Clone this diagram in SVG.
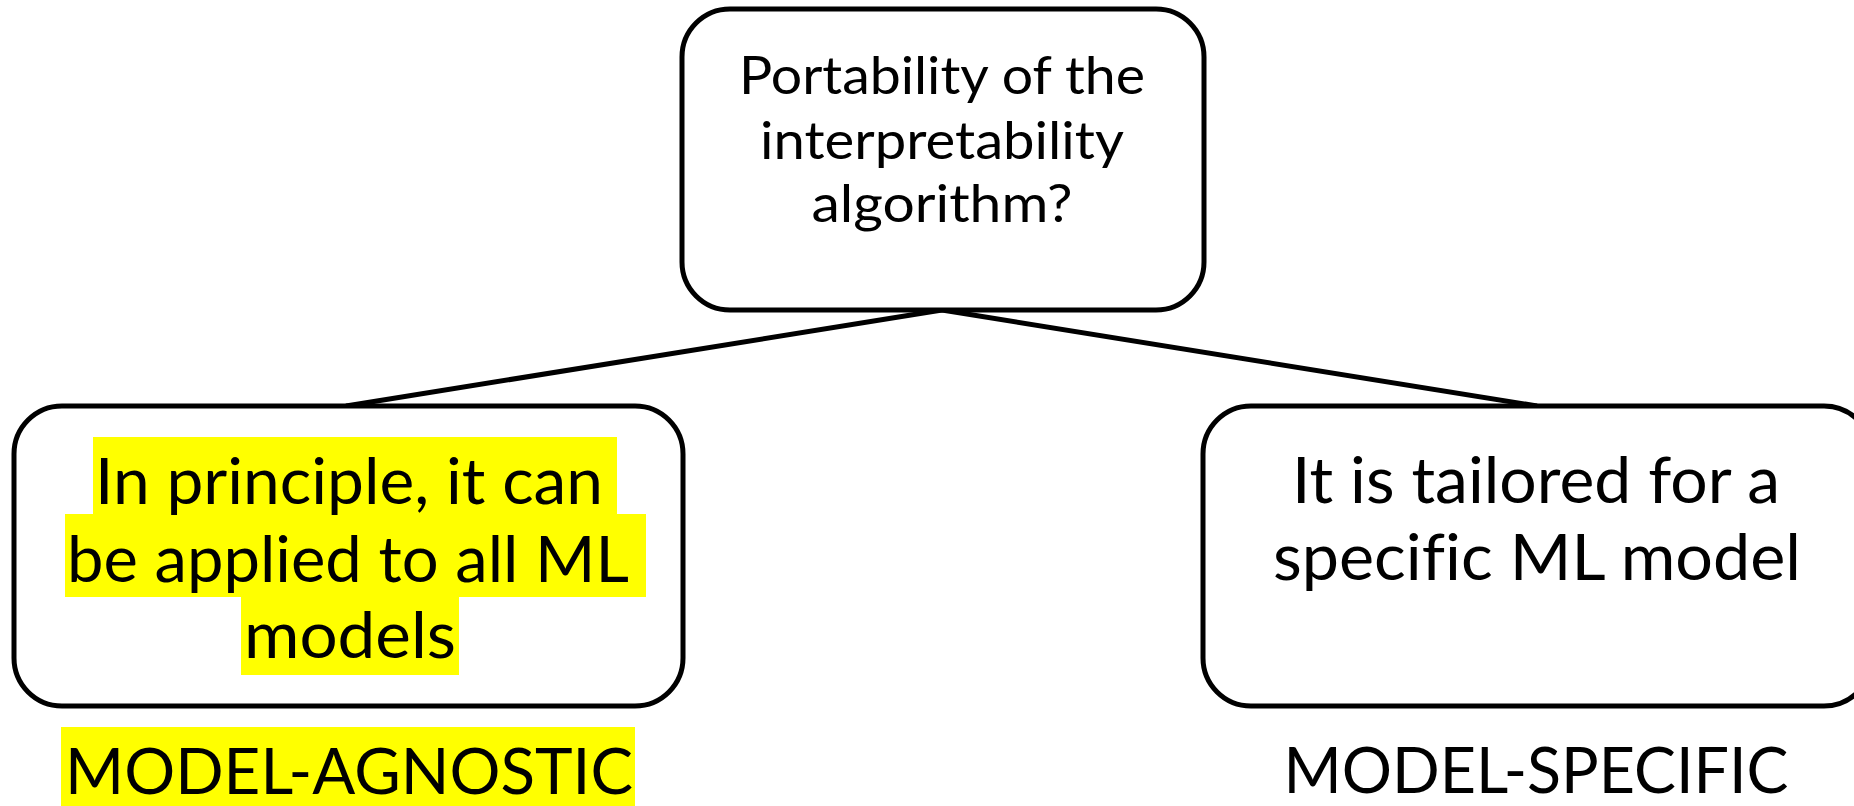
<svg xmlns="http://www.w3.org/2000/svg" width="1854" height="806" viewBox="0 0 1854 806">
<style>
.box{fill:#fff;stroke:#000;stroke-width:5}
.t{font-family:Lato,"Open Sans",sans-serif;fill:#000;text-anchor:middle;font-variant-ligatures:none}
.q{font-size:52px}
.a{font-size:64px}
.hl{fill:#ffff00}
.conn{stroke:#000;stroke-width:5;fill:none}
</style>
<rect width="1854" height="806" fill="#fff"/>
<g id="connectors">
<line class="conn" x1="942" y1="310" x2="346" y2="406"/>
<line class="conn" x1="942" y1="310" x2="1537" y2="406"/>
</g>
<g id="question">
<rect class="box" x="682" y="9" width="522" height="301" rx="48"/>
<text class="t q" x="942" y="94" textLength="406" lengthAdjust="spacingAndGlyphs">Portability of the</text>
<text class="t q" x="942" y="159" textLength="364" lengthAdjust="spacingAndGlyphs">interpretability</text>
<text class="t q" x="942" y="222" textLength="261" lengthAdjust="spacingAndGlyphs">algorithm?</text>
</g>
<g id="agnostic">
<rect class="box" x="14" y="406" width="669" height="300" rx="48"/>
<rect class="hl" x="93" y="437" width="524" height="77"/>
<rect class="hl" x="65" y="514" width="581" height="83"/>
<rect class="hl" x="241" y="597" width="218" height="78"/>
<text class="t a" x="349" y="504" textLength="508" lengthAdjust="spacingAndGlyphs">In principle, it can</text>
<text class="t a" x="348" y="582" textLength="562" lengthAdjust="spacingAndGlyphs">be applied to all ML</text>
<text class="t a" x="350" y="658" textLength="212" lengthAdjust="spacingAndGlyphs">models</text>
</g>
<g id="agnostic-label">
<rect class="hl" x="61" y="727" width="574" height="79"/>
<text class="t a" x="349" y="794" textLength="568" lengthAdjust="spacingAndGlyphs">MODEL-AGNOSTIC</text>
</g>
<g id="specific">
<rect class="box" x="1203" y="406" width="669" height="300" rx="48"/>
<text class="t a" x="1536" y="503" textLength="488" lengthAdjust="spacingAndGlyphs">It is tailored for a</text>
<text class="t a" x="1537" y="580" textLength="528" lengthAdjust="spacingAndGlyphs">specific ML model</text>
</g>
<g id="specific-label">
<text class="t a" x="1536" y="793" textLength="505" lengthAdjust="spacingAndGlyphs">MODEL-SPECIFIC</text>
</g>
</svg>
